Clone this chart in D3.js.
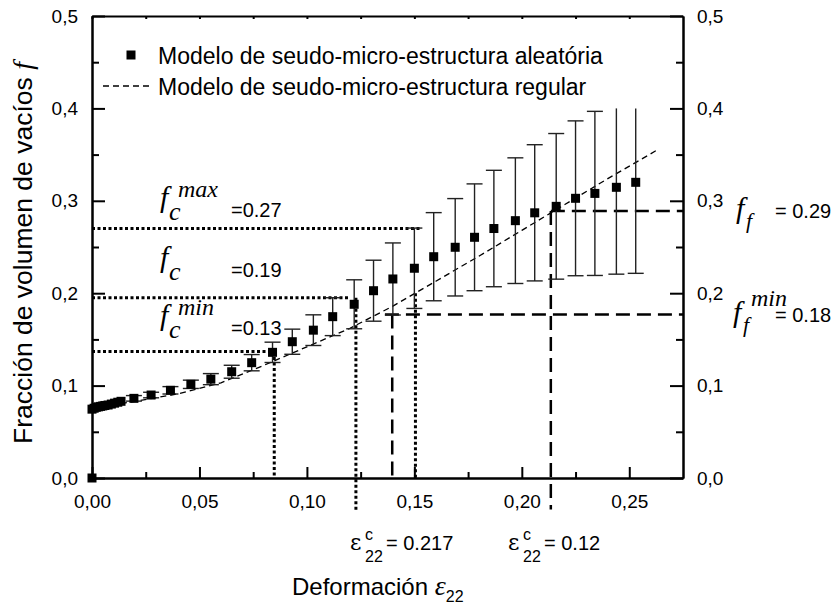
<!DOCTYPE html>
<html>
<head>
<meta charset="utf-8">
<script src="https://cdn.jsdelivr.net/npm/d3@7"></script>
<style>
  body { margin: 0; background: #fff; }
  text { font-family: "Liberation Sans", Arimo, Arial, Helvetica, sans-serif; fill: #000; }
  .serif { font-family: "Liberation Serif", Tinos, "Times New Roman", Times, serif; font-style: italic; }
</style>
</head>
<body>
<div id="chart"></div>
<script>
// random model (squares with error bars)
const randX = [0, 0, 0.001, 0.002, 0.003, 0.004, 0.005, 0.006, 0.0075, 0.009, 0.0105, 0.012, 0.0135,
  0.0195, 0.0275, 0.0365, 0.046, 0.0553, 0.065, 0.0743, 0.084, 0.0932, 0.103, 0.112, 0.122, 0.131,
  0.140, 0.150, 0.159, 0.169, 0.178, 0.187, 0.197, 0.206, 0.216, 0.225, 0.234, 0.244, 0.253];
const randY = [0, 0.0745, 0.0755, 0.0765, 0.077, 0.0775, 0.078, 0.0785, 0.079, 0.080, 0.081, 0.082, 0.083,
  0.0862, 0.0898, 0.0949, 0.1014, 0.107, 0.115, 0.1248, 0.136, 0.1475, 0.160, 0.1746, 0.188, 0.2027,
  0.2154, 0.227, 0.2395, 0.2497, 0.2605, 0.270, 0.2785, 0.287, 0.294, 0.3027, 0.308, 0.3146, 0.320];
const randErr = [0, 0, 0, 0, 0, 0, 0, 0, 0, 0.001, 0.001, 0.0015, 0.0015,
  0.003, 0.003, 0.004, 0.0045, 0.006, 0.007, 0.0088, 0.011, 0.0136, 0.0166, 0.0205, 0.0265, 0.033,
  0.039, 0.0435, 0.0477, 0.0527, 0.0578, 0.063, 0.068, 0.0737, 0.0788, 0.0838, 0.0888, 0.094, 0.0985];

// regular model (dashed line)
const regX = [0, 0.01, 0.02, 0.04, 0.06, 0.08, 0.10, 0.12, 0.14, 0.16, 0.18, 0.20, 0.22, 0.24, 0.263];
const regY = [0.072, 0.079, 0.083, 0.091, 0.103, 0.122, 0.142, 0.162, 0.186, 0.213, 0.240, 0.268, 0.296, 0.324, 0.355];

// ticks
const xTicks = [0, 0.05, 0.10, 0.15, 0.20, 0.25];
const xMinor = [0.025, 0.075, 0.125, 0.175, 0.225];
const yTicks = [0, 0.1, 0.2, 0.3, 0.4, 0.5];
const yMinor = [0.05, 0.15, 0.25, 0.35, 0.45];

// reference lines
const dottedH = [[0.27, 0, 0.153], [0.195, 0, 0.120], [0.137, 0, 0.084]];
const dottedV = [[0.0848, 0.137, 0], [0.1228, 0.195, -0.035], [0.1505, 0.20, 0]];
const dashedH = [[0.289, 0.2135, 0.275], [0.177, 0.1363, 0.275]];
const dashedV = [[0.2135, 0.289, -0.034], [0.1397, 0.177, 0]];

const width = 835, height = 605;
const mLeft = 92, mRight = 683, mTop = 16, mBottom = 478;

const svg = d3.select("#chart").append("svg")
    .attr("width", width)
    .attr("height", height);

const x = d3.scaleLinear().domain([0, 0.275]).range([mLeft, mRight]);
const y = d3.scaleLinear().domain([0, 0.5]).range([mBottom, mTop]);

const locale = d3.formatLocale({decimal: ",", thousands: ".", grouping: [3], currency: ["", ""]});
const fx = locale.format(".2f");
const fy = locale.format(".1f");

// reference lines first (under the data)
const ref = svg.append("g").attr("fill", "none").attr("stroke", "#000");
ref.selectAll(".dh").data(dottedH).enter().append("line")
    .attr("x1", d => x(d[1])).attr("x2", d => x(d[2]))
    .attr("y1", d => y(d[0])).attr("y2", d => y(d[0]))
    .attr("stroke-width", 3).attr("stroke-dasharray", "3,2.5");
ref.selectAll(".dv").data(dottedV).enter().append("line")
    .attr("x1", d => x(d[0])).attr("x2", d => x(d[0]))
    .attr("y1", d => y(d[1])).attr("y2", d => y(d[2]))
    .attr("stroke-width", 3).attr("stroke-dasharray", "3,2.5");
ref.selectAll(".gh").data(dashedH).enter().append("line")
    .attr("x1", d => x(d[1])).attr("x2", d => x(d[2]))
    .attr("y1", d => y(d[0])).attr("y2", d => y(d[0]))
    .attr("stroke-width", 2.5).attr("stroke-dasharray", "14,7");
ref.selectAll(".gv").data(dashedV).enter().append("line")
    .attr("x1", d => x(d[0])).attr("x2", d => x(d[0]))
    .attr("y1", d => y(d[1])).attr("y2", d => y(d[2]))
    .attr("stroke-width", 2.5).attr("stroke-dasharray", "14,7");

// regular model line
const regData = regX.map((v, i) => [v, regY[i]]);
svg.append("path")
    .datum(regData)
    .attr("fill", "none")
    .attr("stroke", "#000")
    .attr("stroke-width", 1.3)
    .attr("stroke-dasharray", "6,4")
    .attr("d", d3.line().x(d => x(d[0])).y(d => y(d[1])));

// error bars, clipped at 0.4
const yMax = 0.4;
const randData = randX.map((v, i) => ({x: v, y: randY[i], e: randErr[i]}));
const bars = svg.append("g").attr("stroke", "#222").attr("stroke-width", 1.4);
const withErr = randData.filter(d => d.e > 0.002);
bars.selectAll(".eb").data(withErr).enter().append("line")
    .attr("x1", d => x(d.x)).attr("x2", d => x(d.x))
    .attr("y1", d => y(d.y - d.e)).attr("y2", d => y(Math.min(d.y + d.e, yMax)));
bars.selectAll(".cl").data(withErr).enter().append("line")
    .attr("x1", d => x(d.x) - 8).attr("x2", d => x(d.x) + 8)
    .attr("y1", d => y(d.y - d.e)).attr("y2", d => y(d.y - d.e));
bars.selectAll(".cu").data(withErr.filter(d => d.y + d.e <= yMax)).enter().append("line")
    .attr("x1", d => x(d.x) - 8).attr("x2", d => x(d.x) + 8)
    .attr("y1", d => y(d.y + d.e)).attr("y2", d => y(d.y + d.e));

svg.append("g").selectAll("rect").data(randData).enter().append("rect")
    .attr("x", d => x(d.x) - 4.5)
    .attr("y", d => y(d.y) - 4.5)
    .attr("width", 9).attr("height", 9)
    .attr("fill", "#000");

// axes
function styleAxis(g) {
  g.attr("font-family", null).attr("font-size", null);
  g.select(".domain").attr("stroke-width", 2);
  g.selectAll(".tick line").attr("stroke-width", 2);
  g.selectAll(".tick text").style("font-size", "19px");
}

svg.append("g").attr("transform", `translate(0,${mBottom})`)
    .call(d3.axisBottom(x).tickValues(xTicks).tickFormat(fx).tickSizeInner(-11).tickSizeOuter(0).tickPadding(17))
    .call(styleAxis);
svg.append("g").attr("transform", `translate(0,${mBottom})`)
    .call(d3.axisBottom(x).tickValues(xMinor).tickFormat("").tickSizeInner(-6).tickSizeOuter(0))
    .call(styleAxis);
svg.append("g").attr("transform", `translate(0,${mTop})`)
    .call(d3.axisTop(x).tickValues(xTicks.concat(xMinor)).tickFormat("").tickSizeInner(-3).tickSizeOuter(0))
    .call(styleAxis);

svg.append("g").attr("transform", `translate(${mLeft},0)`)
    .call(d3.axisLeft(y).tickValues(yTicks).tickFormat(fy).tickSizeInner(-13).tickSizeOuter(0).tickPadding(14))
    .call(styleAxis);
svg.append("g").attr("transform", `translate(${mLeft},0)`)
    .call(d3.axisLeft(y).tickValues(yMinor).tickFormat("").tickSizeInner(-7).tickSizeOuter(0))
    .call(styleAxis);
svg.append("g").attr("transform", `translate(${mRight},0)`)
    .call(d3.axisRight(y).tickValues(yTicks).tickFormat(fy).tickSizeInner(-13).tickSizeOuter(0).tickPadding(14))
    .call(styleAxis);
svg.append("g").attr("transform", `translate(${mRight},0)`)
    .call(d3.axisRight(y).tickValues(yMinor).tickFormat("").tickSizeInner(-7).tickSizeOuter(0))
    .call(styleAxis);

// legend
svg.append("rect").attr("x", 126.5).attr("y", 50.5).attr("width", 9).attr("height", 9).attr("fill", "#000");
svg.append("text").attr("x", 158).attr("y", 64).style("font-size", "23px")
    .text("Modelo de seudo-micro-estructura aleatória");
svg.append("line").attr("x1", 103).attr("x2", 152).attr("y1", 86).attr("y2", 86)
    .attr("stroke", "#000").attr("stroke-width", 1.3).attr("stroke-dasharray", "6,4");
svg.append("text").attr("x", 158).attr("y", 95).style("font-size", "23px")
    .text("Modelo de seudo-micro-estructura regular");

// axis titles
const yt = svg.append("text").attr("transform", "translate(32,444) rotate(-90)").style("font-size", "26.5px");
yt.append("tspan").text("Fracción de volumen de vacíos ");
yt.append("tspan").attr("class", "serif").style("font-size", "28px").text("f");

const xt = svg.append("text").attr("x", 292).attr("y", 595).style("font-size", "24px");
xt.append("tspan").text("Deformación ");
xt.append("tspan").attr("class", "serif").style("font-size", "28px").text("ε");
xt.append("tspan").attr("dy", 7).style("font-size", "16px").text("22");

// f labels
function fLabel(fx0, base, sub, sup, value, valueX) {
  svg.append("text").attr("class", "serif").attr("x", fx0).attr("y", base).style("font-size", "30px").text("f");
  svg.append("text").attr("class", "serif").attr("x", fx0 + 9).attr("y", base + 13).style("font-size", "26px").text(sub);
  if (sup) svg.append("text").attr("class", "serif").attr("x", fx0 + 18).attr("y", base - 10).style("font-size", "24px").text(sup);
  svg.append("text").attr("x", valueX).attr("y", base + 10).style("font-size", "20px").text(value);
}
fLabel(160, 207, "c", "max", "=0.27", 231);
fLabel(160, 267, "c", null, "=0.19", 231);
fLabel(160, 325, "c", "min", "=0.13", 231);

function fRight(fx0, base, sup, value) {
  svg.append("text").attr("class", "serif").attr("x", fx0).attr("y", base).style("font-size", "30px").text("f");
  svg.append("text").attr("class", "serif").attr("x", fx0 + 10).attr("y", base + 10).style("font-size", "22px").text("f");
  if (sup) svg.append("text").attr("class", "serif").attr("x", fx0 + 18).attr("y", base - 16).style("font-size", "24px").text(sup);
  svg.append("text").attr("x", 775).attr("y", base).style("font-size", "20px").text(value);
}
fRight(736, 218, null, "= 0.29");
fRight(733, 322, "min", "= 0.18");

// strain labels
function epsLabel(ex, value) {
  svg.append("text").attr("x", ex).attr("y", 550).style("font-size", "22px")
      .style("font-family", "DejaVu Serif, serif").text("ε");
  svg.append("text").attr("x", ex + 15).attr("y", 540).style("font-size", "16px").text("c");
  svg.append("text").attr("x", ex + 15).attr("y", 562).style("font-size", "16px").text("22");
  svg.append("text").attr("x", ex + 36).attr("y", 550).style("font-size", "20px").text(value);
}
epsLabel(350, "= 0.217");
epsLabel(508, "= 0.12");
</script>
</body>
</html>
